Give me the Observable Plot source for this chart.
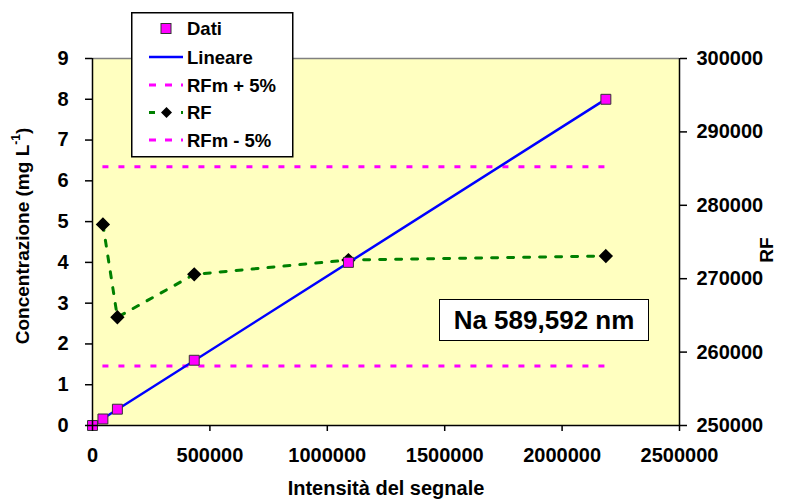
<!DOCTYPE html>
<html>
<head>
<meta charset="utf-8">
<script src="https://cdn.jsdelivr.net/npm/d3@7"></script>
<script src="https://cdn.jsdelivr.net/npm/@observablehq/plot@0.6"></script>
<style>
  body { margin: 0; background: #fff; }
  #wrap { position: relative; width: 803px; height: 502px; font-family: "Liberation Sans", Arial, sans-serif; font-weight: bold; }
  #note { position: absolute; left: 439px; top: 299px; width: 210px; height: 42px; box-sizing: border-box;
          border: 1.5px solid #000; background: #fff; font-size: 26px; display: flex; align-items: center; justify-content: center; }
  #legend { position: absolute; left: 131px; top: 12px; }
</style>
</head>
<body>
<div id="wrap"></div>
<script>
// ---- data ----
const intensity = [0, 44400, 106000, 433300, 1090000, 2186400];
const concentration = [0, 0.16, 0.4, 1.6, 4, 8];
const rfIntensity = [44400, 106000, 433300, 1090000, 2186400];
const rfValues = [277400, 264750, 270590, 272540, 273090];
const rfmPlus5 = 285250;
const rfmMinus5 = 258100;
const xTicks = [0, 500000, 1000000, 1500000, 2000000, 2500000];
const yTicks = [0, 1, 2, 3, 4, 5, 6, 7, 8, 9];
const rfTicks = [250000, 260000, 270000, 280000, 290000, 300000];
const legendLabels = ["Dati", "Lineare", "RFm + 5%", "RF", "RFm - 5%"];

// secondary axis (RF) mapped onto the primary y domain [0, 9]
const rfMin = 250000, rfMax = 300000, yMax = 9;
const toLeft = v => (v - rfMin) / (rfMax - rfMin) * yMax;

const points = intensity.map((x, i) => ({x, c: concentration[i]}));
const rfPoints = rfIntensity.map((x, i) => ({x, rf: rfValues[i]}));
const rfmLines = [
  {x1: rfIntensity[0], x2: rfIntensity[rfIntensity.length - 1], v: rfmPlus5},
  {x1: rfIntensity[0], x2: rfIntensity[rfIntensity.length - 1], v: rfmMinus5}
];

const chart = Plot.plot({
  width: 803, height: 502,
  marginLeft: 92, marginRight: 124, marginTop: 58, marginBottom: 77,
  style: {fontFamily: '"Liberation Sans", Arial, sans-serif', fontWeight: "bold", fontSize: "20px", color: "#000", background: "#fff", overflow: "visible"},
  x: {domain: [0, 2500000]},
  y: {domain: [0, yMax]},
  marks: [
    Plot.frame({fill: "#FFFFC0", stroke: "none"}),
    Plot.ruleY([yMax], {stroke: "#808080", strokeWidth: 1.5}),
    Plot.ruleY(rfmLines, {y: d => toLeft(d.v), x1: "x1", x2: "x2", stroke: "#FF00FF", strokeWidth: 3, strokeDasharray: "6,10"}),
    Plot.line(rfPoints, {x: "x", y: d => toLeft(d.rf), stroke: "#008000", strokeWidth: 3, strokeDasharray: "6,10"}),
    Plot.dot(rfPoints, {x: "x", y: d => toLeft(d.rf), symbol: "diamond2", fill: "#000", stroke: "#000", r: 5.5}),
    Plot.linearRegressionY(points, {x: "x", y: "c", stroke: "#0000FF", strokeWidth: 2.5, ci: 0}),
    Plot.dot(points, {x: "x", y: "c", symbol: "square", fill: "#FF00FF", stroke: "#333", strokeWidth: 1, r: 5.6}),
    Plot.axisX(xTicks, {tickSize: 6, tickPadding: 16, tickFormat: d => String(d), label: null, strokeWidth: 1.5}),
    Plot.axisY(yTicks, {anchor: "left", tickSize: 7, tickPadding: 17, tickFormat: d => String(d), label: null, strokeWidth: 1.5}),
    Plot.axisY(rfTicks.map(toLeft), {anchor: "right", tickSize: 7, tickPadding: 10, tickFormat: d => String(Math.round(rfMin + d / yMax * (rfMax - rfMin))), label: null, strokeWidth: 1.5}),
    Plot.ruleX([0], {stroke: "#000", strokeWidth: 1.5}),
    Plot.ruleX([2500000], {stroke: "#000", strokeWidth: 1.5}),
    Plot.ruleY([0], {stroke: "#000", strokeWidth: 1.5})
  ]
});

const wrap = document.getElementById("wrap");
wrap.appendChild(chart);

// axis titles
const svg = d3.select(chart);
svg.append("text")
  .attr("x", 386).attr("y", 495)
  .attr("text-anchor", "middle").attr("font-size", 20).attr("fill", "#000")
  .text("Intensità del segnale");
const yt = svg.append("text")
  .attr("transform", "translate(22,236) rotate(-90)")
  .attr("text-anchor", "middle").attr("dy", "0.35em").attr("font-size", 19).attr("fill", "#000");
yt.append("tspan").text("Concentrazione (mg L");
yt.append("tspan").attr("font-size", 12).attr("dy", "-0.7em").text("-1");
yt.append("tspan").attr("dy", "0.45em").text(")");
svg.append("text")
  .attr("transform", "translate(766,250) rotate(-90)")
  .attr("text-anchor", "middle").attr("dy", "0.35em").attr("font-size", 19).attr("fill", "#000")
  .text("RF");

// annotation box
const note = document.createElement("div");
note.id = "note";
note.textContent = "Na 589,592 nm";
wrap.appendChild(note);

// legend
const lg = d3.select(wrap).append("svg").attr("id", "legend")
  .attr("width", 163).attr("height", 146);
lg.append("rect").attr("x", 0.75).attr("y", 0.75).attr("width", 161).attr("height", 144)
  .attr("fill", "#fff").attr("stroke", "#000").attr("stroke-width", 1.5);
const rowY = [16.5, 45, 73, 100.5, 128];
legendLabels.forEach((t, i) => {
  lg.append("text").attr("x", 56).attr("y", rowY[i]).attr("dy", "0.36em")
    .attr("font-size", 18.5).attr("font-family", '"Liberation Sans", Arial, sans-serif')
    .attr("font-weight", "bold").text(t);
});
// Dati
lg.append("rect").attr("x", 30).attr("y", rowY[0] - 5).attr("width", 10).attr("height", 10)
  .attr("fill", "#FF00FF").attr("stroke", "#333");
// Lineare
lg.append("line").attr("x1", 18).attr("x2", 52).attr("y1", rowY[1]).attr("y2", rowY[1])
  .attr("stroke", "#0000FF").attr("stroke-width", 2.5);
// RFm +/- 5%
[2, 4].forEach(i => lg.append("line").attr("x1", 18).attr("x2", 52).attr("y1", rowY[i]).attr("y2", rowY[i])
  .attr("stroke", "#FF00FF").attr("stroke-width", 3).attr("stroke-dasharray", "7,9"));
// RF
lg.append("line").attr("x1", 18).attr("x2", 52).attr("y1", rowY[3]).attr("y2", rowY[3])
  .attr("stroke", "#008000").attr("stroke-width", 3).attr("stroke-dasharray", "6,26");
lg.append("path").attr("d", `M35.5,${rowY[3]-5.5}L41,${rowY[3]}L35.5,${rowY[3]+5.5}L30,${rowY[3]}Z`).attr("fill", "#000");
lg.append("line").attr("x1", 51).attr("x2", 52).attr("y1", rowY[3]).attr("y2", rowY[3])
  .attr("stroke", "#008000").attr("stroke-width", 3);
</script>
</body>
</html>
